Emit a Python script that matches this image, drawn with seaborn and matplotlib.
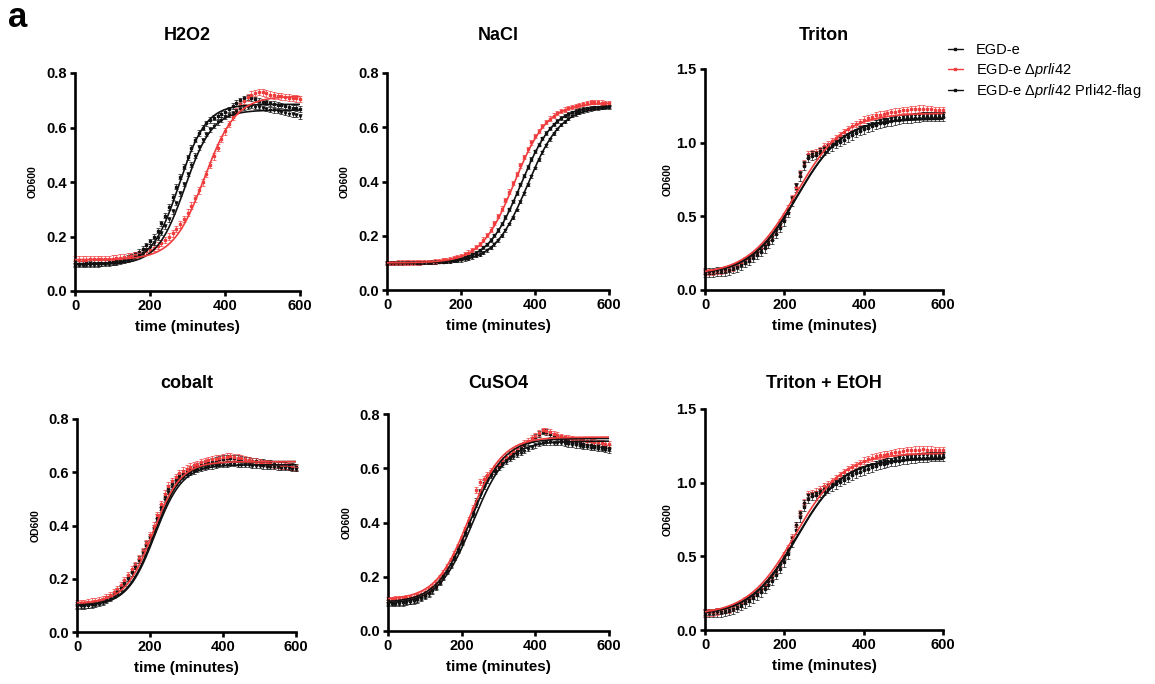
import numpy as np
import pandas as pd
import matplotlib
matplotlib.use("Agg")
import matplotlib.pyplot as plt
from matplotlib.lines import Line2D
import seaborn as sns

# ---------------------------------------------------------------------------
# Growth curves (mean OD600 every 10 min) of three Listeria strains under stress
# ---------------------------------------------------------------------------
minutes = np.arange(0, 601, 10)
strain_keys = ["egde", "prli42", "flag"]
strain_labels = ["EGD-e",
                 "EGD-e $\\mathit{\\Delta prli42}$",
                 "EGD-e $\\mathit{\\Delta prli42}$ Prli42-flag"]

# --- H2O2 ---
h2o2_egde = [0.100, 0.100, 0.100, 0.101, 0.101, 0.102, 0.102, 0.103, 0.104, 0.105,
             0.107, 0.109, 0.112, 0.116, 0.121, 0.127, 0.134, 0.143, 0.154, 0.167,
             0.182, 0.200, 0.222, 0.248, 0.277, 0.309, 0.345, 0.383, 0.420, 0.456,
             0.490, 0.525, 0.555, 0.580, 0.600, 0.615, 0.627, 0.636, 0.643, 0.650,
             0.657, 0.667, 0.679, 0.690, 0.700, 0.707, 0.711, 0.708, 0.703, 0.699,
             0.695, 0.692, 0.689, 0.686, 0.683, 0.681, 0.678, 0.676, 0.673, 0.671,
             0.668]
h2o2_prli42 = [0.115, 0.115, 0.115, 0.115, 0.116, 0.116, 0.116, 0.117, 0.117, 0.118,
               0.119, 0.120, 0.122, 0.124, 0.126, 0.129, 0.132, 0.136, 0.140, 0.145,
               0.151, 0.158, 0.166, 0.176, 0.187, 0.200, 0.212, 0.228, 0.245, 0.265,
               0.288, 0.313, 0.340, 0.369, 0.399, 0.430, 0.462, 0.494, 0.526, 0.557,
               0.586, 0.613, 0.638, 0.661, 0.681, 0.698, 0.711, 0.721, 0.727, 0.731,
               0.729, 0.725, 0.721, 0.718, 0.716, 0.714, 0.712, 0.710, 0.709, 0.707,
               0.705]
h2o2_flag = [0.095, 0.095, 0.095, 0.096, 0.096, 0.097, 0.097, 0.098, 0.099, 0.100,
             0.102, 0.104, 0.107, 0.110, 0.114, 0.119, 0.125, 0.132, 0.141, 0.151,
             0.163, 0.177, 0.194, 0.214, 0.237, 0.263, 0.292, 0.324, 0.358, 0.393,
             0.429, 0.464, 0.497, 0.527, 0.553, 0.575, 0.593, 0.607, 0.619, 0.629,
             0.638, 0.646, 0.654, 0.661, 0.667, 0.672, 0.676, 0.678, 0.677, 0.675,
             0.672, 0.669, 0.666, 0.663, 0.660, 0.657, 0.654, 0.651, 0.648, 0.645,
             0.641]
h2o2_sd = [0.010, 0.012, 0.008]
# logistic fit parameters: bottom, top, midpoint (min), slope (min)
h2o2_fit = [(0.100, 0.685, 278, 36), (0.115, 0.715, 345, 42), (0.097, 0.664, 293, 37)]

# --- NaCl ---
nacl_egde = [0.100, 0.100, 0.100, 0.100, 0.100, 0.101, 0.101, 0.101, 0.101, 0.101,
             0.102, 0.102, 0.103, 0.103, 0.104, 0.105, 0.107, 0.108, 0.110, 0.113,
             0.116, 0.120, 0.125, 0.131, 0.138, 0.146, 0.157, 0.169, 0.184, 0.201,
             0.221, 0.244, 0.269, 0.297, 0.327, 0.358, 0.390, 0.422, 0.453, 0.483,
             0.511, 0.536, 0.559, 0.579, 0.596, 0.611, 0.623, 0.634, 0.642, 0.649,
             0.655, 0.660, 0.664, 0.667, 0.670, 0.672, 0.673, 0.674, 0.675, 0.676,
             0.677]
nacl_prli42 = [0.100, 0.100, 0.100, 0.101, 0.101, 0.101, 0.101, 0.101, 0.102, 0.102,
               0.103, 0.104, 0.104, 0.105, 0.107, 0.109, 0.111, 0.113, 0.117, 0.120,
               0.125, 0.131, 0.138, 0.147, 0.158, 0.170, 0.186, 0.203, 0.223, 0.246,
               0.272, 0.300, 0.331, 0.363, 0.395, 0.427, 0.459, 0.490, 0.518, 0.544,
               0.567, 0.587, 0.604, 0.620, 0.632, 0.643, 0.652, 0.659, 0.665, 0.670,
               0.674, 0.678, 0.682, 0.686, 0.690, 0.694, 0.693, 0.692, 0.691, 0.690,
               0.690]
nacl_flag = [0.100, 0.100, 0.100, 0.100, 0.100, 0.100, 0.100, 0.100, 0.101, 0.101,
             0.101, 0.101, 0.101, 0.102, 0.103, 0.103, 0.104, 0.105, 0.107, 0.108,
             0.110, 0.113, 0.116, 0.120, 0.125, 0.130, 0.137, 0.146, 0.156, 0.168,
             0.183, 0.200, 0.220, 0.243, 0.267, 0.295, 0.325, 0.356, 0.388, 0.419,
             0.450, 0.480, 0.508, 0.533, 0.556, 0.576, 0.594, 0.609, 0.621, 0.632,
             0.641, 0.648, 0.654, 0.659, 0.663, 0.666, 0.668, 0.670, 0.672, 0.673,
             0.674]
nacl_sd = [0.006, 0.008, 0.005]
nacl_fit = [(0.100, 0.680, 362, 45), (0.100, 0.690, 344, 45), (0.100, 0.676, 380, 45)]

# --- Triton ---
triton_egde = [0.115, 0.115, 0.115, 0.120, 0.120, 0.125, 0.130, 0.140, 0.150, 0.165,
               0.180, 0.195, 0.215, 0.235, 0.255, 0.280, 0.310, 0.340, 0.380, 0.420,
               0.465, 0.520, 0.600, 0.690, 0.770, 0.840, 0.895, 0.910, 0.915, 0.930,
               0.945, 0.960, 0.975, 0.990, 1.005, 1.020, 1.035, 1.050, 1.065, 1.080,
               1.090, 1.100, 1.110, 1.120, 1.130, 1.135, 1.140, 1.145, 1.150, 1.155,
               1.160, 1.165, 1.165, 1.170, 1.170, 1.175, 1.175, 1.175, 1.175, 1.175,
               1.175]
triton_prli42 = [0.120, 0.120, 0.120, 0.125, 0.130, 0.135, 0.140, 0.150, 0.165, 0.180,
                 0.200, 0.215, 0.235, 0.255, 0.280, 0.305, 0.335, 0.370, 0.410, 0.455,
                 0.500, 0.550, 0.620, 0.700, 0.790, 0.860, 0.920, 0.930, 0.935, 0.950,
                 0.975, 0.990, 1.010, 1.030, 1.050, 1.070, 1.090, 1.110, 1.125, 1.140,
                 1.155, 1.165, 1.175, 1.185, 1.190, 1.195, 1.200, 1.205, 1.210, 1.215,
                 1.220, 1.220, 1.225, 1.225, 1.230, 1.230, 1.225, 1.225, 1.220, 1.220,
                 1.220]
triton_flag = [0.120, 0.120, 0.120, 0.125, 0.125, 0.130, 0.135, 0.145, 0.155, 0.170,
               0.190, 0.205, 0.225, 0.245, 0.270, 0.295, 0.325, 0.355, 0.395, 0.440,
               0.485, 0.540, 0.620, 0.710, 0.790, 0.860, 0.910, 0.925, 0.930, 0.945,
               0.960, 0.975, 0.990, 1.005, 1.020, 1.035, 1.050, 1.065, 1.080, 1.095,
               1.105, 1.115, 1.125, 1.135, 1.145, 1.150, 1.155, 1.160, 1.165, 1.170,
               1.175, 1.180, 1.180, 1.185, 1.185, 1.190, 1.190, 1.190, 1.190, 1.190,
               1.190]
triton_sd = [0.030, 0.022, 0.015]
triton_fit = [(0.100, 1.160, 232, 58), (0.100, 1.200, 229, 60), (0.100, 1.165, 231, 59)]

# --- cobalt ---
cobalt_egde = [0.100, 0.100, 0.100, 0.102, 0.104, 0.107, 0.110, 0.115, 0.122, 0.130,
               0.140, 0.152, 0.166, 0.183, 0.202, 0.224, 0.248, 0.273, 0.300, 0.328,
               0.357, 0.390, 0.430, 0.470, 0.510, 0.540, 0.558, 0.573, 0.585, 0.595,
               0.603, 0.610, 0.616, 0.622, 0.627, 0.632, 0.636, 0.640, 0.644, 0.648,
               0.651, 0.653, 0.654, 0.653, 0.651, 0.649, 0.647, 0.645, 0.643, 0.641,
               0.639, 0.637, 0.635, 0.633, 0.631, 0.629, 0.627, 0.625, 0.623, 0.621,
               0.619]
cobalt_prli42 = [0.110, 0.110, 0.110, 0.112, 0.114, 0.117, 0.120, 0.125, 0.132, 0.140,
                 0.150, 0.162, 0.177, 0.195, 0.215, 0.235, 0.252, 0.278, 0.305, 0.335,
                 0.365, 0.400, 0.440, 0.480, 0.520, 0.550, 0.568, 0.583, 0.596, 0.606,
                 0.614, 0.621, 0.627, 0.632, 0.637, 0.641, 0.645, 0.648, 0.651, 0.654,
                 0.657, 0.659, 0.660, 0.658, 0.655, 0.652, 0.649, 0.646, 0.643, 0.640,
                 0.637, 0.635, 0.633, 0.631, 0.629, 0.627, 0.625, 0.623, 0.621, 0.619,
                 0.617]
cobalt_flag = [0.098, 0.098, 0.098, 0.100, 0.102, 0.105, 0.108, 0.113, 0.120, 0.128,
               0.138, 0.150, 0.164, 0.180, 0.199, 0.220, 0.243, 0.268, 0.295, 0.323,
               0.352, 0.385, 0.422, 0.460, 0.495, 0.525, 0.545, 0.560, 0.572, 0.582,
               0.590, 0.597, 0.603, 0.608, 0.612, 0.616, 0.619, 0.622, 0.624, 0.626,
               0.628, 0.629, 0.630, 0.630, 0.629, 0.628, 0.627, 0.626, 0.625, 0.624,
               0.623, 0.622, 0.621, 0.620, 0.619, 0.618, 0.617, 0.616, 0.615, 0.614,
               0.613]
cobalt_sd = [0.012, 0.012, 0.008]
cobalt_fit = [(0.100, 0.640, 212, 38), (0.108, 0.640, 208, 38), (0.098, 0.628, 213, 38)]

# --- CuSO4 ---
cuso4_egde = [0.105, 0.105, 0.105, 0.106, 0.107, 0.109, 0.111, 0.114, 0.118, 0.124,
              0.131, 0.140, 0.151, 0.165, 0.182, 0.201, 0.223, 0.247, 0.273, 0.301,
              0.331, 0.364, 0.400, 0.440, 0.480, 0.515, 0.545, 0.566, 0.583, 0.597,
              0.610, 0.622, 0.633, 0.644, 0.655, 0.665, 0.675, 0.685, 0.695, 0.705,
              0.715, 0.726, 0.735, 0.733, 0.727, 0.720, 0.714, 0.709, 0.705, 0.701,
              0.698, 0.695, 0.692, 0.689, 0.687, 0.685, 0.683, 0.681, 0.679, 0.677,
              0.675]
cuso4_prli42 = [0.117, 0.117, 0.118, 0.119, 0.120, 0.122, 0.124, 0.127, 0.131, 0.136,
                0.145, 0.153, 0.163, 0.178, 0.196, 0.215, 0.237, 0.260, 0.285, 0.312,
                0.342, 0.375, 0.410, 0.455, 0.520, 0.550, 0.560, 0.575, 0.590, 0.603,
                0.617, 0.630, 0.642, 0.653, 0.664, 0.674, 0.684, 0.693, 0.702, 0.711,
                0.720, 0.730, 0.740, 0.738, 0.733, 0.727, 0.722, 0.718, 0.714, 0.711,
                0.709, 0.707, 0.705, 0.703, 0.701, 0.699, 0.697, 0.695, 0.693, 0.691,
                0.689]
cuso4_flag = [0.100, 0.100, 0.100, 0.101, 0.102, 0.104, 0.106, 0.109, 0.113, 0.119,
              0.126, 0.135, 0.146, 0.160, 0.177, 0.196, 0.218, 0.242, 0.268, 0.296,
              0.326, 0.358, 0.392, 0.428, 0.465, 0.500, 0.530, 0.553, 0.571, 0.586,
              0.600, 0.612, 0.623, 0.633, 0.642, 0.650, 0.658, 0.665, 0.672, 0.678,
              0.684, 0.689, 0.693, 0.695, 0.695, 0.694, 0.693, 0.692, 0.690, 0.688,
              0.686, 0.684, 0.682, 0.680, 0.678, 0.676, 0.674, 0.672, 0.670, 0.668,
              0.666]
cuso4_sd = [0.010, 0.010, 0.008]
cuso4_fit = [(0.105, 0.710, 224, 45), (0.115, 0.715, 220, 45), (0.100, 0.700, 230, 46)]

# --- Triton + EtOH ---
tretoh_egde = [0.115, 0.115, 0.115, 0.120, 0.120, 0.125, 0.130, 0.140, 0.150, 0.165,
               0.180, 0.195, 0.215, 0.235, 0.255, 0.280, 0.305, 0.335, 0.375, 0.415,
               0.460, 0.515, 0.595, 0.680, 0.765, 0.835, 0.890, 0.910, 0.915, 0.930,
               0.945, 0.960, 0.975, 0.990, 1.005, 1.020, 1.035, 1.050, 1.065, 1.075,
               1.085, 1.095, 1.105, 1.115, 1.125, 1.130, 1.135, 1.140, 1.145, 1.150,
               1.155, 1.160, 1.165, 1.165, 1.170, 1.170, 1.170, 1.175, 1.175, 1.175,
               1.175]
tretoh_prli42 = [0.120, 0.120, 0.120, 0.125, 0.130, 0.135, 0.140, 0.150, 0.165, 0.180,
                 0.200, 0.215, 0.235, 0.255, 0.280, 0.305, 0.335, 0.370, 0.410, 0.455,
                 0.505, 0.555, 0.630, 0.710, 0.795, 0.865, 0.920, 0.930, 0.940, 0.955,
                 0.975, 0.990, 1.010, 1.030, 1.050, 1.070, 1.090, 1.105, 1.120, 1.135,
                 1.150, 1.160, 1.170, 1.180, 1.185, 1.190, 1.195, 1.200, 1.205, 1.210,
                 1.215, 1.220, 1.220, 1.225, 1.225, 1.230, 1.225, 1.225, 1.220, 1.220,
                 1.220]
tretoh_flag = [0.120, 0.120, 0.120, 0.125, 0.125, 0.130, 0.135, 0.145, 0.155, 0.170,
               0.190, 0.205, 0.225, 0.245, 0.270, 0.295, 0.325, 0.355, 0.395, 0.440,
               0.490, 0.545, 0.625, 0.715, 0.795, 0.865, 0.915, 0.925, 0.930, 0.945,
               0.960, 0.975, 0.990, 1.005, 1.020, 1.035, 1.050, 1.065, 1.080, 1.090,
               1.100, 1.110, 1.120, 1.130, 1.140, 1.145, 1.150, 1.155, 1.160, 1.165,
               1.170, 1.175, 1.180, 1.180, 1.185, 1.185, 1.190, 1.190, 1.190, 1.190,
               1.190]
tretoh_sd = [0.030, 0.022, 0.015]
tretoh_fit = [(0.100, 1.160, 232, 58), (0.100, 1.200, 228, 60), (0.100, 1.165, 231, 59)]

panel_titles = ["H2O2", "NaCl", "Triton", "cobalt", "CuSO4", "Triton + EtOH"]
panel_series = [
    (h2o2_egde, h2o2_prli42, h2o2_flag, h2o2_sd, h2o2_fit),
    (nacl_egde, nacl_prli42, nacl_flag, nacl_sd, nacl_fit),
    (triton_egde, triton_prli42, triton_flag, triton_sd, triton_fit),
    (cobalt_egde, cobalt_prli42, cobalt_flag, cobalt_sd, cobalt_fit),
    (cuso4_egde, cuso4_prli42, cuso4_flag, cuso4_sd, cuso4_fit),
    (tretoh_egde, tretoh_prli42, tretoh_flag, tretoh_sd, tretoh_fit),
]
y_max = [0.8, 0.8, 1.5, 0.8, 0.8, 1.5]

# ---------------------------------------------------------------------------
# styling
# ---------------------------------------------------------------------------
sns.set_theme(style="ticks")
plt.rcParams["font.family"] = ["Liberation Sans", "DejaVu Sans"]
plt.rcParams["mathtext.fontset"] = "custom"
plt.rcParams["mathtext.rm"] = "Liberation Sans"
plt.rcParams["mathtext.it"] = "Liberation Sans:italic"
plt.rcParams["mathtext.bf"] = "Liberation Sans:bold"
for key in ("text.color", "axes.labelcolor", "xtick.color", "ytick.color",
            "axes.edgecolor"):
    plt.rcParams[key] = "black"

BLACK = "#111111"
RED = "#f03c3c"
colors = {"egde": BLACK, "prli42": RED, "flag": BLACK}
markers = {"egde": "s", "prli42": "s", "flag": "v"}

W, H = 1155, 684
fig = plt.figure(figsize=(W / 100, H / 100), dpi=100)


def px_rect(x0, y_top, x1, y_bottom):
    return [x0 / W, 1 - y_bottom / H, (x1 - x0) / W, (y_bottom - y_top) / H]


axes_px = [
    (75, 73, 300, 291), (387, 73, 609, 290), (705, 69, 943, 289.5),
    (77, 419, 296, 632), (388, 414, 609, 631), (705, 409, 943, 630),
]
title_y_px = [35, 35, 35, 384, 384, 384]
ylabel_pad = [6.0, 6.0, 2.5, 5.5, 5.5, 2.5]


def logistic(t, bottom, top, mid, slope):
    return bottom + (top - bottom) / (1.0 + np.exp(-(t - mid) / slope))


t_fine = np.linspace(0, 600, 301)

for i, title in enumerate(panel_titles):
    ax = fig.add_axes(px_rect(*axes_px[i]))
    egde, prli42, flag, sd, fits = panel_series[i]
    values = {"egde": egde, "prli42": prli42, "flag": flag}

    # mean +/- SD points
    for k, key in enumerate(strain_keys):
        ax.errorbar(minutes, values[key], yerr=sd[k], fmt=markers[key],
                    ms=1.6, color=colors[key], ecolor=colors[key],
                    elinewidth=0.5, capsize=1.1, capthick=0.5,
                    zorder=2, clip_on=False)

    # logistic fits
    fit_frames = []
    for key in ["egde", "flag", "prli42"]:
        idx = strain_keys.index(key)
        fit_frames.append(pd.DataFrame({
            "t": t_fine,
            "od": logistic(t_fine, *fits[idx]),
            "strain": key,
        }))
    fit_df = pd.concat(fit_frames, ignore_index=True)
    sns.lineplot(data=fit_df, x="t", y="od", hue="strain",
                 hue_order=["egde", "flag", "prli42"], palette=colors,
                 linewidth=1.2, legend=False, errorbar=None, ax=ax, zorder=3)

    ax.set_xlim(0, 600)
    ax.set_ylim(0, y_max[i])
    ax.set_xticks([0, 200, 400, 600])
    if y_max[i] > 1:
        ax.set_yticks([0.0, 0.5, 1.0, 1.5])
    else:
        ax.set_yticks([0.0, 0.2, 0.4, 0.6, 0.8])
    sns.despine(ax=ax)
    for side in ("left", "bottom"):
        ax.spines[side].set_linewidth(1.9)
        ax.spines[side].set_color("black")
    ax.tick_params(direction="out", length=3.5, width=1.9, labelsize=10.5,
                   pad=2.5, colors="black")
    for lbl in ax.get_xticklabels() + ax.get_yticklabels():
        lbl.set_fontweight("bold")
    ax.set_xlabel("time (minutes)", fontsize=11, fontweight="bold", labelpad=5)
    ax.set_ylabel("OD600", fontsize=7.5, fontweight="bold", labelpad=ylabel_pad[i])

    x0, _, x1, _ = axes_px[i]
    fig.text((x0 + x1) / 2 / W, 1 - title_y_px[i] / H, title, ha="center",
             va="center", fontsize=13, fontweight="bold", color="black")

# legend
handles = [Line2D([0], [0], color=colors[k], marker="s", ms=1.8, lw=1.0)
           for k in strain_keys]
fig.legend(handles, strain_labels, loc="upper left",
           bbox_to_anchor=(948 / W, 1 - 43 / H), frameon=False, fontsize=10.5,
           handlelength=1.0, handletextpad=0.9, labelspacing=0.25,
           borderpad=0, borderaxespad=0, labelcolor="black")

fig.text(8 / W, 1 - 1 / H, "a", fontsize=25, fontweight="bold", ha="left",
         va="top", color="black")

fig.savefig("out.png", dpi=100)
